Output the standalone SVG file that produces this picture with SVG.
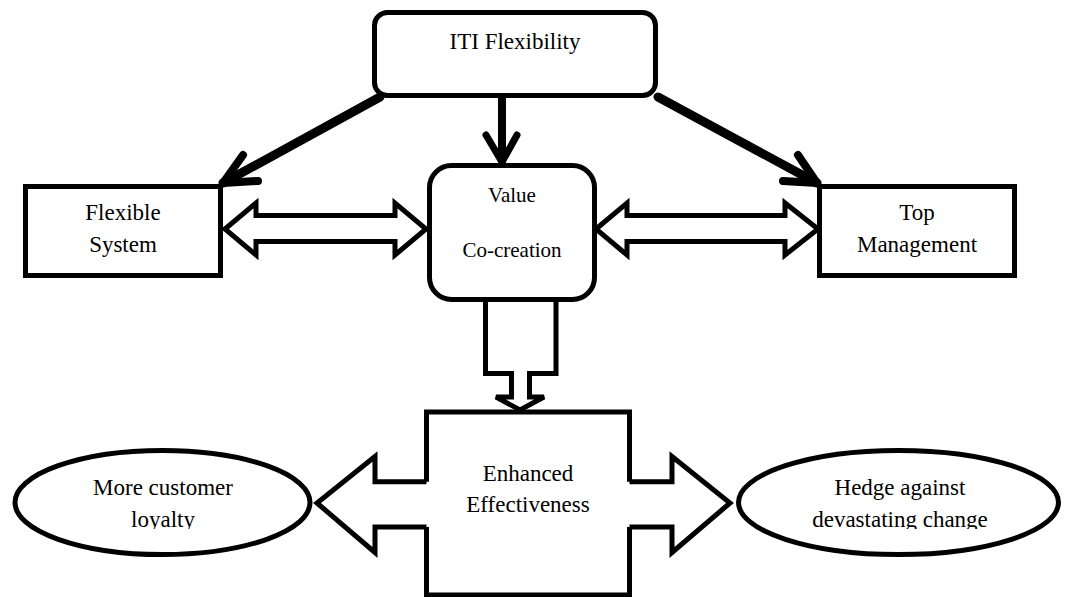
<svg xmlns="http://www.w3.org/2000/svg" width="1075" height="597" viewBox="0 0 1075 597">
<style>
.box{fill:#fff;stroke:#000;stroke-width:5}
.t{font-family:"Liberation Serif","Times New Roman",serif;font-size:23px;fill:#000;text-anchor:middle}
.ts{font-size:21px}
.ln{fill:none;stroke:#000;stroke-linecap:round;stroke-linejoin:round}
.blk{fill:#fff;stroke:#000;stroke-width:5;stroke-linejoin:miter}
</style>
<defs>
<clipPath id="cl"><rect x="0" y="0" width="1075" height="529"/></clipPath>
</defs>
<rect width="1075" height="597" fill="#fff"/>
<g id="connectors">
<path class="ln" style="stroke-width:9" d="M380,97 L223,183"/>
<path class="ln" style="stroke-width:8" d="M243,155 L223,183 L258,181"/>
<path class="ln" style="stroke-width:9" d="M658,97 L817,183"/>
<path class="ln" style="stroke-width:8" d="M798,155 L817,183 L783,181"/>
<path class="ln" style="stroke-width:8" d="M502,98 L502,161"/>
<path class="ln" style="stroke-width:7" d="M486,135 L502,162 L517,135"/>
<path class="blk" d="M225,229 L256,203 V215.5 H395 V203 L426,229 L395,255 V241.5 H256 V255 Z"/>
<path class="blk" d="M596,229 L627,203 V215.5 H785 V203 L818,229 L785,255 V241.5 H627 V255 Z"/>
<path class="blk" d="M485.5,300 V373.5 H511.5 V397 H496 L520,410 L544,397 H529.5 V373.5 H556 V300"/>
<path class="blk" d="M426.5,481.7 H375 V456.5 L317,503 L375,552.5 V527 H426.5"/>
<path class="blk" d="M629.5,481.7 H672 V456.5 L730,503 L672,552.5 V527 H629.5"/>
</g>
<g id="iti">
<rect class="box" x="374.5" y="12.5" width="281" height="83" rx="13"/>
<text class="t" x="515" y="49">ITI Flexibility</text>
</g>
<g id="flexible">
<rect class="box" x="25.5" y="186.5" width="195" height="89"/>
<text class="t" x="123" y="220">Flexible</text>
<text class="t" x="123" y="252">System</text>
</g>
<g id="topmgmt">
<rect class="box" x="819.5" y="186.5" width="195" height="89"/>
<text class="t" x="917" y="220">Top</text>
<text class="t" x="917" y="252">Management</text>
</g>
<g id="value">
<rect class="box" x="429.5" y="165.5" width="165" height="134" rx="22"/>
<text class="t ts" x="512" y="202">Value</text>
<text class="t ts" x="512" y="257">Co-creation</text>
</g>
<g id="enhanced">
<path fill="none" stroke="#000" stroke-width="5" d="M426.5,481.7 V412 H629.5 V481.7 M629.5,527 V595 H426.5 V527"/>
<text class="t" x="528" y="481">Enhanced</text>
<text class="t" x="528" y="512">Effectiveness</text>
</g>
<g id="loyalty">
<ellipse class="box" cx="162.5" cy="502.5" rx="147.5" ry="52"/>
<g clip-path="url(#cl)">
<text class="t" x="163" y="495">More customer</text>
<text class="t" x="163" y="527">loyalty</text>
</g>
</g>
<g id="hedge">
<ellipse class="box" cx="898.5" cy="502.5" rx="160" ry="52"/>
<g clip-path="url(#cl)">
<text class="t" x="900" y="495">Hedge against</text>
<text class="t" x="900" y="527">devastating change</text>
</g>
</g>
</svg>
